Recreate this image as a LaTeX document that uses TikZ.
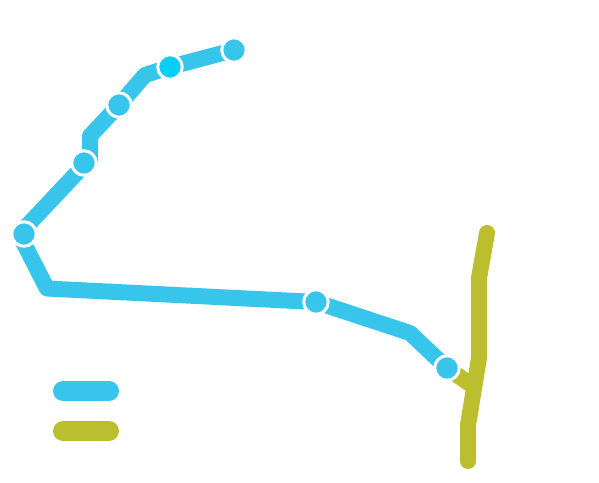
\documentclass[tikz,border=0pt]{standalone}
\usepackage{tikz}
\usetikzlibrary{backgrounds}
\definecolor{lineblue}{RGB}{56, 197, 236}
\definecolor{lineolive}{RGB}{187, 191, 47}
\definecolor{stopcyan}{RGB}{8, 206, 245}
\tikzset{
  bluerun/.style={draw=lineblue, line width=16pt, line join=round},
  oliverun/.style={draw=lineolive, line width=16pt, line cap=round, line join=round},
  keybar/.style={line width=20pt, line cap=round},
  stopnode/.style={circle, fill=lineblue, draw=white, line width=3pt, minimum size=24.5pt, inner sep=0pt}
}

\begin{document}
\begin{tikzpicture}[x=1pt, y=-1pt]
  \useasboundingbox (0,0) rectangle (599,482);
  \coordinate (b1) at (90,159);
  \coordinate (b2) at (90,136);
  \coordinate (b3) at (145,75);
  \coordinate (b4) at (47,288.5);
  \coordinate (b5) at (410,333);
  \coordinate (b6) at (19,234);
  \coordinate (b7) at (24,229);
  \coordinate (o1) at (487,233);
  \coordinate (o2) at (479,278);
  \coordinate (o3) at (479,358);
  \coordinate (o4) at (468,425);
  \coordinate (o5) at (468,461);
  \coordinate (o6) at (470,384);
  \coordinate (k1) at (63,391);
  \coordinate (k2) at (109,391);
  \coordinate (k3) at (63,431);
  \coordinate (k4) at (109,431);
  \node[stopnode] (s1) at (234,50) {};
  \node[stopnode, fill=stopcyan] (s2) at (170,67) {};
  \node[stopnode] (s3) at (119,105) {};
  \node[stopnode] (s4) at (84,163) {};
  \node[stopnode] (s5) at (24,234) {};
  \node[stopnode] (s6) at (316,302) {};
  \node[stopnode] (s7) at (447,368) {};
  \begin{scope}[on background layer]
    \draw[bluerun] (s1.center) -- (s2.center) -- (b3) -- (s3.center) -- (b2) -- (b1) -- (b7) (b6) -- (b4) -- (s6.center) -- (b5) -- (s7.center);
    \draw[oliverun] (o1) -- (o2) -- (o3) -- (o4) -- (o5);
    \draw[draw=lineolive, line width=16pt] (s7.center) -- (o6);
  \end{scope}
  \draw[keybar, lineblue] (k1) -- (k2);
  \draw[keybar, lineolive] (k3) -- (k4);
\end{tikzpicture}
\end{document}
